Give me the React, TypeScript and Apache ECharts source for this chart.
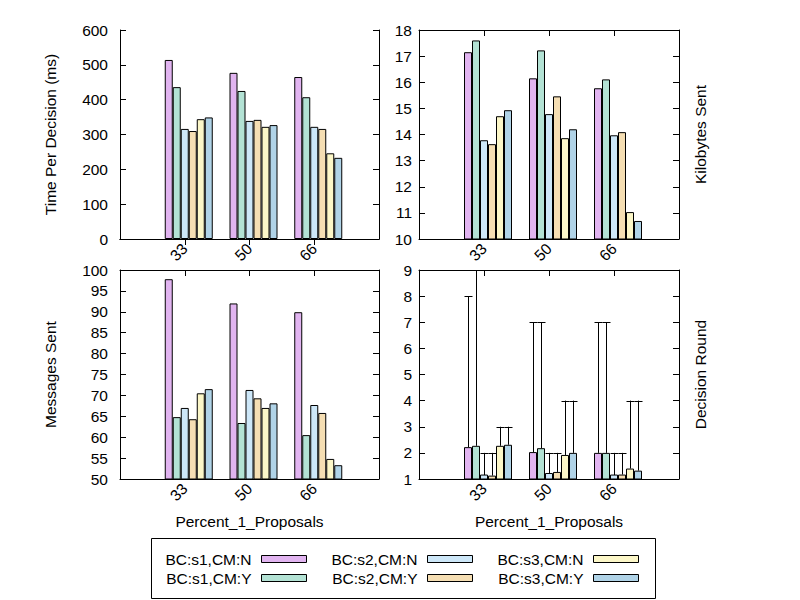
import React, { useEffect, useRef } from 'react';
import * as echarts from 'echarts';

// ---------- data ----------
const categories = ['33', '50', '66'];
const seriesNames = ['BC:s1,CM:N', 'BC:s1,CM:Y', 'BC:s2,CM:N', 'BC:s2,CM:Y', 'BC:s3,CM:N', 'BC:s3,CM:Y'];
const seriesColors = ['#e1b4f0', '#b3e2d4', '#cde7f8', '#f5deb3', '#fcf7c8', '#b0d3e7'];

// one array per series, values for 33 / 50 / 66
const timePerDecision = [
  [514, 477, 465],
  [436, 425, 407],
  [316, 339, 322],
  [310, 342, 316],
  [344, 322, 246],
  [349, 327, 233],
];
const kilobytesSent = [
  [17.15, 16.15, 15.77],
  [17.6, 17.22, 16.11],
  [13.78, 14.78, 13.97],
  [13.63, 15.46, 14.09],
  [14.7, 13.86, 11.03],
  [14.93, 14.2, 10.69],
];
const messagesSent = [
  [97.8, 92.0, 89.9],
  [64.8, 63.4, 60.5],
  [67.0, 71.3, 67.7],
  [64.3, 69.3, 65.8],
  [70.5, 67.0, 54.8],
  [71.5, 68.1, 53.3],
];
const decisionRound = [
  [2.22, 2.03, 2.0],
  [2.27, 2.18, 2.0],
  [1.17, 1.23, 1.17],
  [1.13, 1.27, 1.17],
  [2.27, 1.92, 1.4],
  [2.31, 2.0, 1.32],
];
const decisionRoundMax = [
  [8, 7, 7],
  [10, 7, 7],
  [2, 2, 2],
  [2, 2, 2],
  [3, 4, 4],
  [3, 4, 4],
];

const timeTicks = { min: 0, max: 600, interval: 100 };
const kbTicks = { min: 10, max: 18, interval: 1 };
const msgTicks = { min: 50, max: 100, interval: 5 };
const roundTicks = { min: 1, max: 9, interval: 1 };

const xAxisTitle = 'Percent_1_Proposals';

// ---------- layout ----------
const FONT = '"Liberation Sans", Arial, Helvetica, sans-serif';
const FS = 15.5;
const BAR_W = 8;
const N_SLOTS = 7; // six series plus gnuplot's leading empty slot

const grids = [
  { left: 120, top: 30, width: 259, height: 209 },
  { left: 419, top: 30, width: 260, height: 209 },
  { left: 120, top: 270, width: 259, height: 209 },
  { left: 419, top: 270, width: 260, height: 209 },
];

const panels = [
  { title: 'Time Per Decision (ms)', data: timePerDecision, ticks: timeTicks, nameSide: 'left', labelMargin: 12, bottomRow: false },
  { title: 'Kilobytes Sent', data: kilobytesSent, ticks: kbTicks, nameSide: 'right', labelMargin: 7, bottomRow: false },
  { title: 'Messages Sent', data: messagesSent, ticks: msgTicks, nameSide: 'left', labelMargin: 12, bottomRow: true },
  { title: 'Decision Round', data: decisionRound, ticks: roundTicks, nameSide: 'right', labelMargin: 7, bottomRow: true },
];

const axisCats = ['', ...categories, ''];
const innerTick = (idx: number) => idx > 0 && idx < axisCats.length - 1;
const black = '#000';

function buildOption() {
  const xAxis: any[] = [];
  const yAxis: any[] = [];
  const series: any[] = [];

  panels.forEach((p, i) => {
    xAxis.push({
      gridIndex: i,
      type: 'category',
      data: axisCats,
      boundaryGap: false,
      position: 'bottom',
      axisLine: { show: true, lineStyle: { color: black, width: 1 } },
      axisTick: { show: true, inside: true, length: 6, interval: innerTick, lineStyle: { color: black } },
      axisLabel: { show: true, rotate: 45, interval: 0, color: black, fontSize: FS, fontFamily: FONT, margin: 7 },
      splitLine: { show: false },
      name: p.bottomRow ? xAxisTitle : '',
      nameLocation: 'middle',
      nameGap: 34,
      nameMoveOverlap: false,
      nameTextStyle: { color: black, fontSize: FS, fontFamily: FONT },
    });
    xAxis.push({
      gridIndex: i,
      type: 'category',
      data: axisCats,
      boundaryGap: false,
      position: 'top',
      axisLine: { show: true, lineStyle: { color: black, width: 1 } },
      axisTick: { show: true, inside: true, length: 6, interval: innerTick, lineStyle: { color: black } },
      axisLabel: { show: false },
      splitLine: { show: false },
    });
    yAxis.push({
      gridIndex: i,
      type: 'value',
      position: 'left',
      min: p.ticks.min,
      max: p.ticks.max,
      interval: p.ticks.interval,
      axisLine: { show: true, lineStyle: { color: black, width: 1 } },
      axisTick: { show: true, inside: true, length: 6, lineStyle: { color: black } },
      axisLabel: { show: true, color: black, fontSize: FS, fontFamily: FONT, margin: p.labelMargin },
      splitLine: { show: false },
      name: p.nameSide === 'left' ? p.title : '',
      nameLocation: 'middle',
      nameRotate: 90,
      nameGap: 62,
      nameMoveOverlap: false,
      nameTextStyle: { color: black, fontSize: FS, fontFamily: FONT },
    });
    yAxis.push({
      gridIndex: i,
      type: 'value',
      position: 'right',
      min: p.ticks.min,
      max: p.ticks.max,
      interval: p.ticks.interval,
      axisLine: { show: true, lineStyle: { color: black, width: 1 } },
      axisTick: { show: true, inside: true, length: 6, lineStyle: { color: black } },
      axisLabel: { show: false },
      splitLine: { show: false },
      name: p.nameSide === 'right' ? p.title : '',
      nameLocation: 'middle',
      nameRotate: 90,
      nameGap: 13,
      nameMoveOverlap: false,
      nameTextStyle: { color: black, fontSize: FS, fontFamily: FONT },
    });

    // leading empty slot (gnuplot's cluster offset)
    series.push({
      type: 'bar',
      name: '__gap__' + i,
      xAxisIndex: 2 * i,
      yAxisIndex: 2 * i,
      barWidth: BAR_W,
      barGap: '0%',
      data: [],
    });
    p.data.forEach((vals, j) => {
      series.push({
        type: 'bar',
        name: seriesNames[j],
        xAxisIndex: 2 * i,
        yAxisIndex: 2 * i,
        barWidth: BAR_W,
        barGap: '0%',
        clip: true,
        itemStyle: { color: seriesColors[j], borderColor: black, borderWidth: 1 },
        emphasis: { disabled: true },
        data: ['-', ...vals, '-'],
      });
    });
  });

  // error bars for Decision Round
  const errData: number[][] = [];
  decisionRound.forEach((vals, j) => {
    vals.forEach((v, c) => {
      errData.push([c + 1, j, v, decisionRoundMax[j][c]]);
    });
  });
  series.push({
    type: 'custom',
    name: '__err__',
    xAxisIndex: 6,
    yAxisIndex: 6,
    clip: true,
    z: 5,
    encode: { x: 0, y: [2, 3] },
    data: errData,
    renderItem: (params: any, api: any) => {
      const cat = api.value(0);
      const j = api.value(1);
      const v = api.value(2);
      const hi = api.value(3);
      const p0 = api.coord([cat, v]);
      const p1 = api.coord([cat, hi]);
      const x = Math.round(p0[0] - (N_SLOTS * BAR_W) / 2 + (j + 1) * BAR_W + BAR_W / 2) + 0.5;
      const style = { stroke: black, lineWidth: 1, fill: 'none' };
      return {
        type: 'group',
        children: [
          { type: 'line', shape: { x1: x, y1: p0[1], x2: x, y2: p1[1] }, style },
          { type: 'line', shape: { x1: x - 4, y1: Math.round(p1[1]) + 0.5, x2: x + 4, y2: Math.round(p1[1]) + 0.5 }, style },
        ],
      };
    },
  });

  const legendRights = [493, 327, 161];
  const legend = [0, 1, 2].map((k) => ({
    data: [seriesNames[2 * k], seriesNames[2 * k + 1]],
    orient: 'vertical',
    right: legendRights[k],
    top: 551,
    padding: 0,
    itemWidth: 45,
    itemHeight: 7,
    itemGap: 3,
    align: 'right',
    icon: 'rect',
    selectedMode: false,
    itemStyle: { borderColor: black, borderWidth: 1 },
    textStyle: { color: black, fontSize: FS, fontFamily: FONT, padding: [0, 5, 0, 0] },
  }));

  return {
    animation: false,
    backgroundColor: '#fff',
    textStyle: { fontFamily: FONT, color: black },
    grid: grids.map((g) => ({ ...g, containLabel: false, outerBoundsMode: 'none' })),
    xAxis,
    yAxis,
    series,
    legend,
    graphic: [
      {
        type: 'rect',
        shape: { x: 151.5, y: 538.5, width: 504, height: 60 },
        style: { fill: 'none', stroke: black, lineWidth: 1 },
        silent: true,
      },
    ],
  };
}

export default function App() {
  const ref = useRef<HTMLDivElement>(null);
  useEffect(() => {
    if (!ref.current) return;
    const chart = echarts.init(ref.current, undefined, { renderer: 'svg', width: 800, height: 600 });
    chart.setOption(buildOption() as any);
    return () => chart.dispose();
  }, []);
  return (
    <div
      ref={ref}
      style={{ position: 'fixed', left: 0, top: 0, width: 800, height: 600, background: '#fff' }}
    />
  );
}
